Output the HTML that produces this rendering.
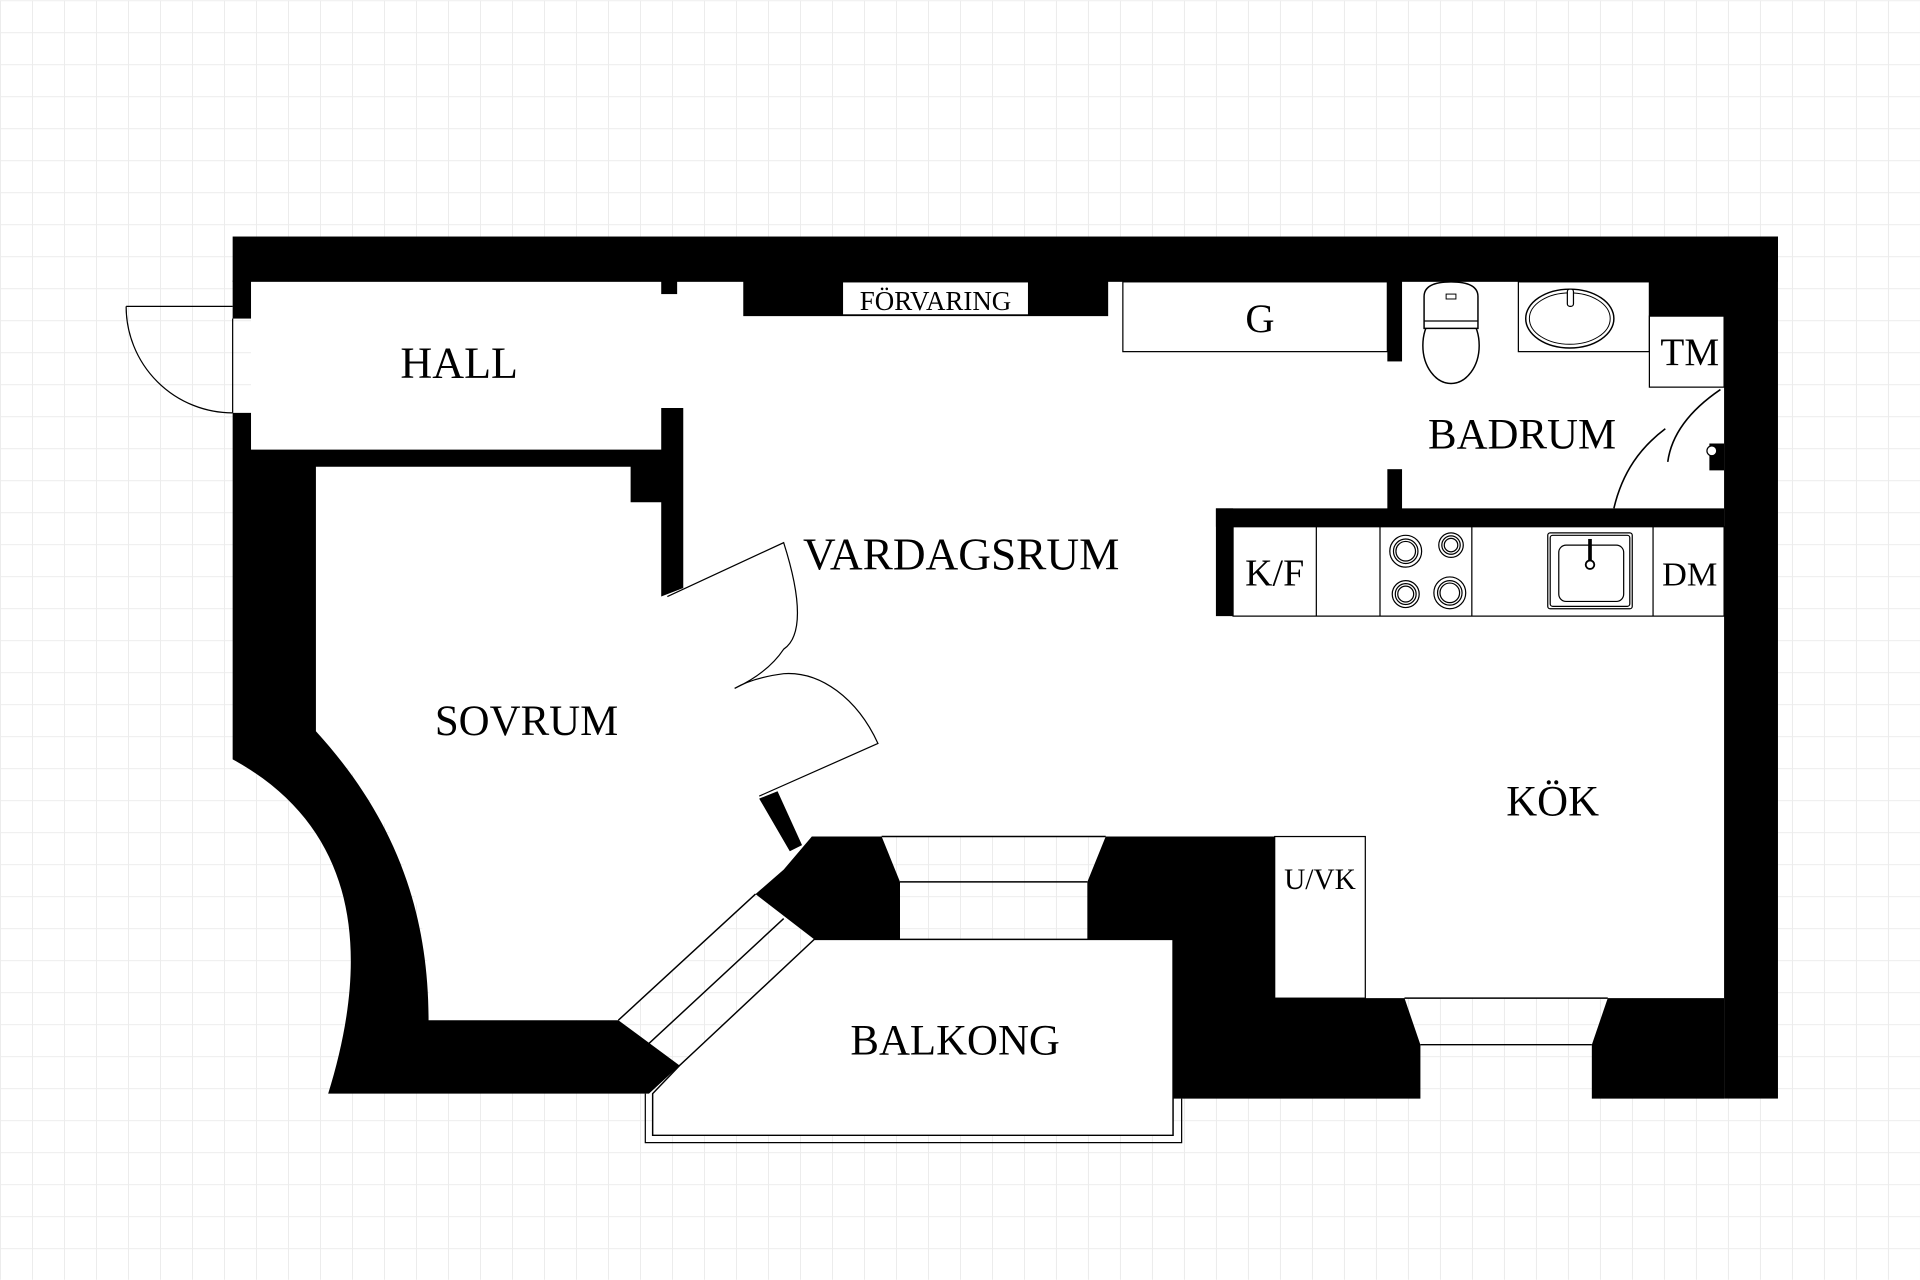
<!DOCTYPE html>
<html><head><meta charset="utf-8"><style>
html,body{margin:0;padding:0;background:#fff;}
svg{display:block;}
text{font-family:"Liberation Serif",serif;fill:#000;}
</style></head><body>
<svg width="1920" height="1280" viewBox="0 0 1568 1045" xmlns="http://www.w3.org/2000/svg">
<defs>
<pattern id="g" width="26.133" height="26.133" patternUnits="userSpaceOnUse">
<path d="M0 0 H26.133 M0 0 V26.133" stroke="#ececec" stroke-width="1.6" fill="none"/>
</pattern>
</defs>
<rect width="1568" height="1045" fill="url(#g)"/>

<path d="M205,230 H1408 V815 H1041 V683 H663 L640,710 L617,730 L505,833 H350 C355,760 330,670 258,597 V381 H205 Z" fill="#fff"/>
<rect x="205" y="230" width="340" height="137" fill="#fff"/>

<rect x="190" y="193" width="1262" height="37" fill="#000"/>
<rect x="1408" y="193" width="44" height="704" fill="#000"/>
<rect x="607" y="229" width="298" height="29" fill="#000"/>
<rect x="688" y="230" width="152" height="27" fill="#fff" stroke="#000" stroke-width="1"/>
<rect x="540" y="229" width="13" height="11" fill="#000"/>
<rect x="190" y="229" width="15" height="31" fill="#000"/>
<rect x="1347" y="229" width="62" height="29" fill="#000"/>

<path d="M190,337 H205 V367 H540 V333 H558 V480 L540,487 V410 H515 V381 H258 V597 C320,665 350,740 350,833 H505 L555,870 L530,893 H268 C300,790 300,680 190,620 Z" fill="#000"/>

<path d="M620,652 L635,646 L655,690 L645,695 Z" fill="#000"/>

<path d="M505,833 L617,730 M530,852 L640,750 M555,870 L665,770" stroke="#000" stroke-width="1.2" fill="none"/>
<path d="M617,730 L640,710 L663,683 L720,683 L735,720 L735,767 L665,767 Z" fill="#000"/>

<path d="M720,683 H903 M735,720 H888" stroke="#000" stroke-width="1.2"/>
<path d="M888,720 L903,683 L1041,683 L1041,815 L1147,815 L1160,853 L1160,897 L958,897 L958,767 L888,767 Z" fill="#000"/>
<path d="M1300,853 L1313,815 L1408,815 L1408,897 L1300,897 Z" fill="#000"/>
<path d="M1147,815 H1313 M1160,853 H1300" stroke="#000" stroke-width="1.2"/>

<path d="M665,767 H958 V927 H533 V893 L555,870 Z" fill="#fff" stroke="#000" stroke-width="1.2"/>
<path d="M527,893 V933 H965 V897" fill="none" stroke="#000" stroke-width="1"/>

<rect x="1041" y="683" width="74" height="132" fill="#fff" stroke="#000" stroke-width="1"/>

<path d="M103,250 H190 M103,250 A87,87 0 0 0 190,337" fill="none" stroke="#000" stroke-width="1"/>
<line x1="190" y1="260" x2="190" y2="337" stroke="#000" stroke-width="1"/>

<path d="M545,487 L640,443 C655,490 655,520 640,530 C630,545 615,555 600,562" fill="none" stroke="#000" stroke-width="1"/>
<path d="M620,650 L717,607 C700,570 670,548 640,550 C625,552 610,556 600,562" fill="none" stroke="#000" stroke-width="1"/>

<rect x="917" y="230" width="216" height="57" fill="#fff" stroke="#000" stroke-width="1"/>
<rect x="1133" y="229" width="12" height="66" fill="#000"/>
<rect x="1133" y="383" width="12" height="33" fill="#000"/>
<rect x="1240" y="230" width="107" height="57" fill="#fff" stroke="#000" stroke-width="1"/>
<rect x="1347" y="258" width="61" height="58" fill="#fff" stroke="#000" stroke-width="1"/>
<ellipse cx="1185" cy="282" rx="23" ry="31" fill="#fff" stroke="#000" stroke-width="1.2"/>
<path d="M1163,268 V242 Q1163,230 1185,230 Q1207,230 1207,242 V268 Z" fill="#fff" stroke="#000" stroke-width="1.2"/>
<path d="M1163,262 H1207" stroke="#000"/>
<rect x="1181" y="240" width="8" height="4" fill="none" stroke="#000" stroke-width="0.8"/>
<ellipse cx="1282" cy="260" rx="36" ry="24" fill="#fff" stroke="#000" stroke-width="1.2"/>
<ellipse cx="1282" cy="260" rx="33" ry="21" fill="none" stroke="#000" stroke-width="0.8"/>
<rect x="1280" y="236" width="5" height="14" rx="2" fill="#fff" stroke="#000"/>
<path d="M1318,415 C1325,385 1340,365 1360,350 M1362,377 C1365,355 1380,335 1405,318" fill="none" stroke="#000" stroke-width="1.3"/>
<path d="M1396,362 h12 v22 h-12 z" fill="#000"/>
<circle cx="1398" cy="368" r="4" fill="#fff" stroke="#000"/>

<rect x="993" y="415" width="415" height="15" fill="#000"/>
<rect x="993" y="415" width="14" height="88" fill="#000"/>
<rect x="1007" y="430" width="401" height="73" fill="#fff" stroke="#000" stroke-width="1"/>
<path d="M1075,430 V503 M1127,430 V503 M1202,430 V503 M1350,430 V503" stroke="#000" stroke-width="1"/>
<g fill="none" stroke="#000" stroke-width="1">
<circle cx="1148" cy="450" r="13"/><circle cx="1148" cy="450" r="10"/><circle cx="1148" cy="450" r="8"/>
<circle cx="1185" cy="445" r="10"/><circle cx="1185" cy="445" r="7.5"/><circle cx="1185" cy="445" r="5.5"/>
<circle cx="1148" cy="485" r="11"/><circle cx="1148" cy="485" r="8.5"/><circle cx="1148" cy="485" r="6.5"/>
<circle cx="1184" cy="484" r="13"/><circle cx="1184" cy="484" r="10"/><circle cx="1184" cy="484" r="8"/>
<rect x="1264" y="435" width="69" height="62" rx="2"/>
<rect x="1266" y="437" width="65" height="58" rx="2"/>
<rect x="1273" y="445" width="53" height="46" rx="6"/>
</g>
<rect x="1297" y="440" width="3" height="18" fill="#000"/>
<circle cx="1298.5" cy="461" r="3.5" fill="#fff" stroke="#000" stroke-width="1.5"/>

<text x="375" y="308" font-size="36" text-anchor="middle">HALL</text>
<text x="764" y="253" font-size="22" text-anchor="middle">FÖRVARING</text>
<text x="1029" y="271" font-size="33" text-anchor="middle">G</text>
<text x="1380" y="298" font-size="32" text-anchor="middle">TM</text>
<text x="1243" y="366" font-size="35" text-anchor="middle">BADRUM</text>
<text x="785" y="465" font-size="37" text-anchor="middle">VARDAGSRUM</text>
<text x="430" y="600" font-size="35" text-anchor="middle">SOVRUM</text>
<text x="1268" y="666" font-size="35" text-anchor="middle">KÖK</text>
<text x="780" y="861" font-size="35" text-anchor="middle">BALKONG</text>
<text x="1078" y="726" font-size="24" text-anchor="middle">U/VK</text>
<text x="1041" y="478" font-size="31" text-anchor="middle">K/F</text>
<text x="1380" y="478" font-size="28" text-anchor="middle">DM</text>
</svg>
</body></html>
